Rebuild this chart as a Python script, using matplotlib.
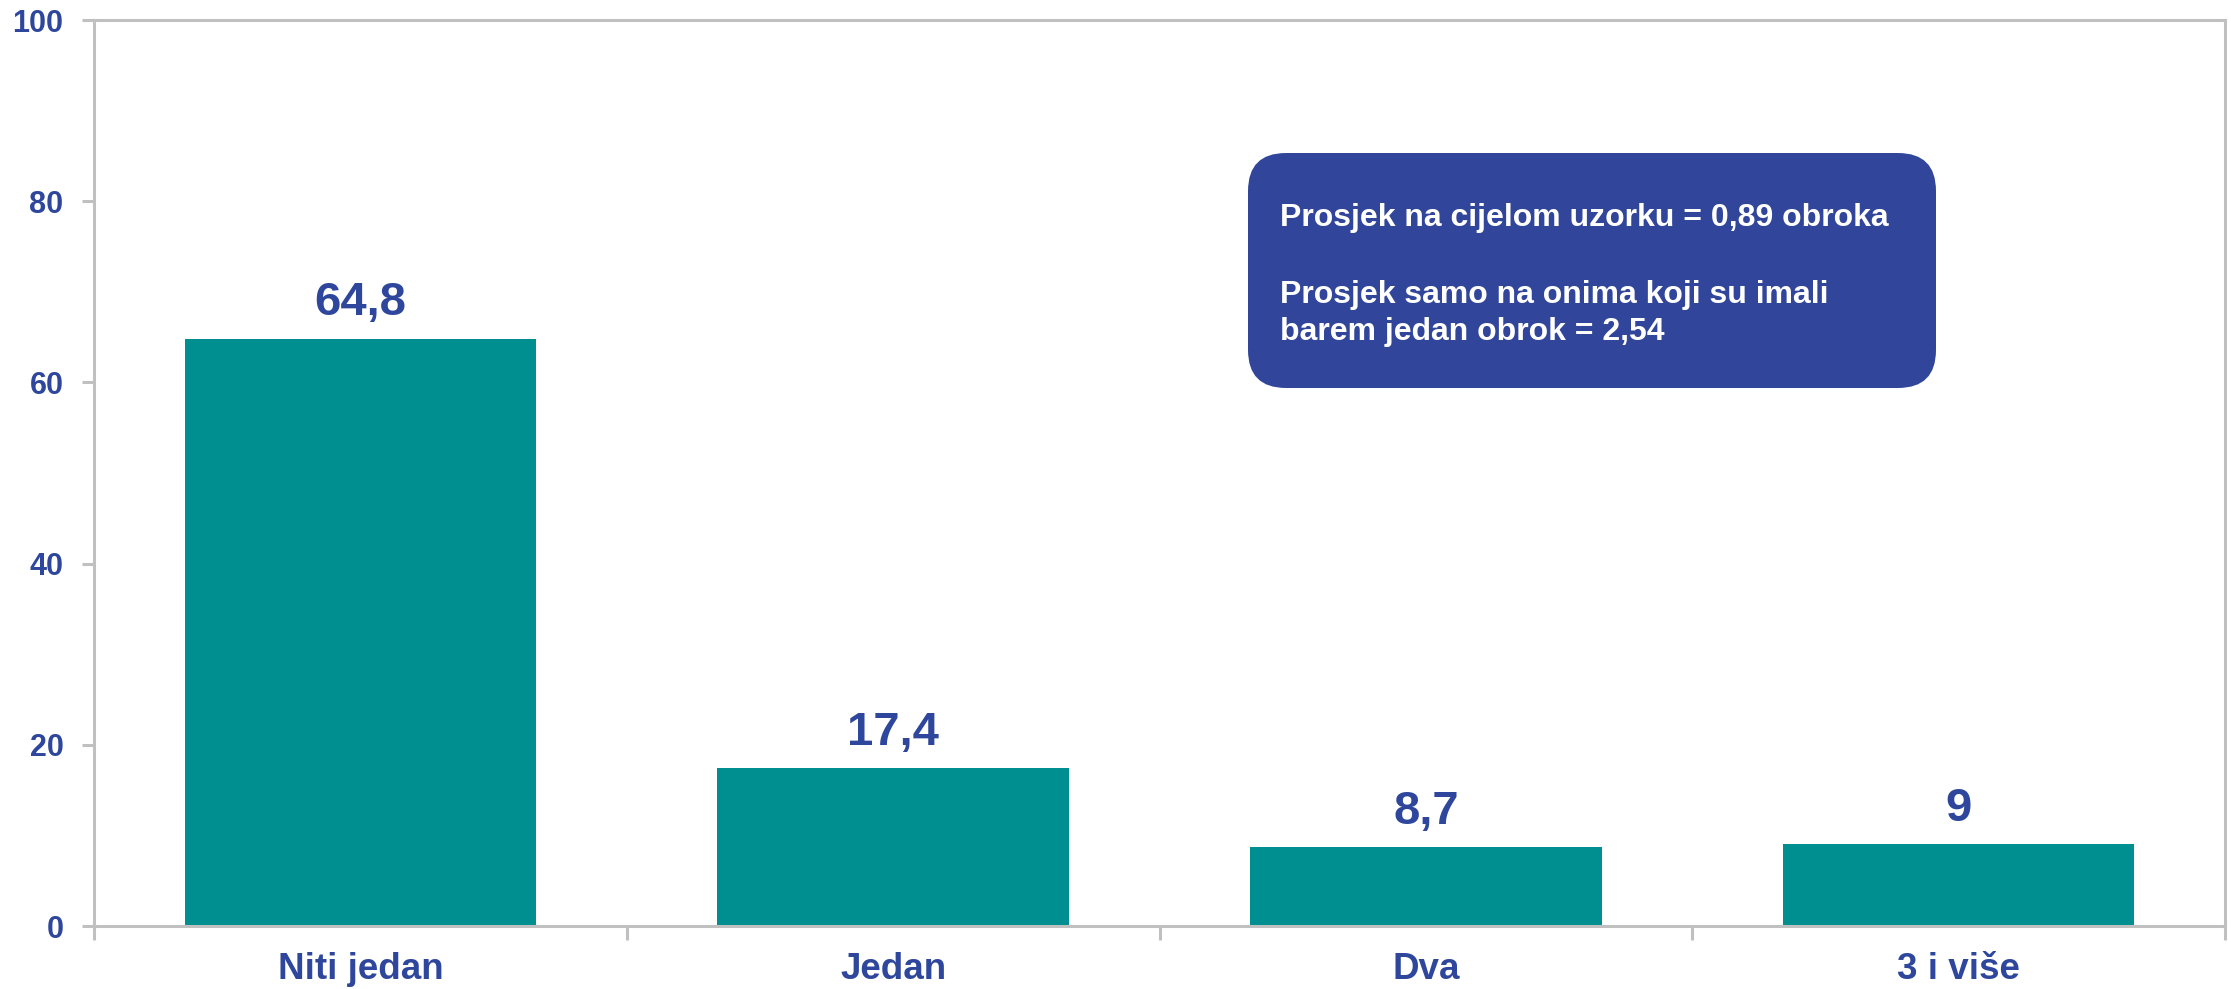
import matplotlib.pyplot as plt
from matplotlib.patches import FancyBboxPatch
from matplotlib.transforms import IdentityTransform

# Broj obroka - udio ispitanika (%)
categories = ["Niti jedan", "Jedan", "Dva", "3 i više"]
values = [64.8, 17.4, 8.7, 9]
value_labels = ["64,8", "17,4", "8,7", "9"]
yticks = [0, 20, 40, 60, 80, 100]
note_lines = ["Prosjek na cijelom uzorku = 0,89 obroka",
              "Prosjek samo na onima koji su imali",
              "barem jedan obrok = 2,54"]

BAR = "#008F91"
TEXT = "#2E479C"
BOX = "#31469A"
AXIS = "#C0C0C0"

plt.rcParams['font.family'] = ['Liberation Sans', 'DejaVu Sans']
plt.rcParams['font.weight'] = 'bold'

W, H = 2231, 989
fig = plt.figure(figsize=(W / 100, H / 100), dpi=100)
ax = fig.add_axes([94 / W, 1 - 926 / H, (2225 - 94) / W, (926 - 20) / H])

x = range(len(categories))
ax.bar(x, values, width=0.66, color=BAR, zorder=2)
for i, (v, lab) in enumerate(zip(values, value_labels)):
    ax.annotate(lab, (i, v), xytext=(0, 17), textcoords='offset points',
                ha='center', va='baseline', fontsize=34, fontweight='bold', color=TEXT)

ax.set_xlim(-0.5, len(categories) - 0.5)
ax.set_ylim(0, 100)

# category boundaries carry the tick marks, labels sit at the centres
ax.set_xticks([i - 0.5 for i in range(len(categories) + 1)])
ax.set_xticklabels([])
ax.set_xticks(list(x), minor=True)
ax.set_xticklabels(categories, minor=True, fontsize=26.5, fontweight='bold', color=TEXT)
ax.tick_params(axis='x', which='major', direction='out', length=10, width=2.2, color=AXIS)
ax.tick_params(axis='x', which='minor', length=0, pad=19)

ax.set_yticks(yticks)
ax.set_yticklabels([str(t) for t in yticks], fontsize=22, fontweight='bold', color=TEXT)
ax.tick_params(axis='y', direction='out', length=9, width=2.2, color=AXIS, pad=13)

for side in ['left', 'right', 'top', 'bottom']:
    ax.spines[side].set_color(AXIS)
    ax.spines[side].set_linewidth(2.2)

# note box, laid out in pixels
box = FancyBboxPatch((1248, H - 388), 1936 - 1248, 388 - 153,
                     boxstyle="round,pad=0,rounding_size=38",
                     transform=IdentityTransform(), facecolor=BOX,
                     edgecolor='none', zorder=5)
fig.patches.append(box)
for line, y in zip(note_lines, [226, 303, 340]):
    fig.text(1280 / W, 1 - y / H, line, ha='left', va='baseline', fontsize=23,
             fontweight='bold', color='white', zorder=6)

fig.savefig("out.png", dpi=100)
